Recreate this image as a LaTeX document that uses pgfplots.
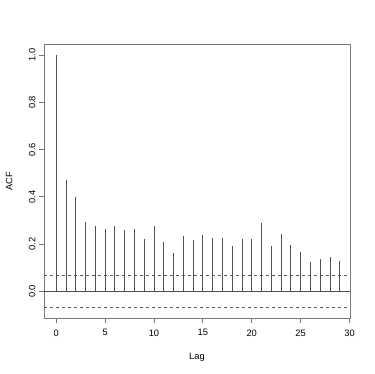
\documentclass[border=0pt]{standalone}
\usepackage{pgfplots}
\pgfplotsset{compat=1.18}
\usepackage{fontspec}
\setmainfont{Liberation Sans}
\definecolor{framegray}{RGB}{120,120,120}
\definecolor{spikegray}{RGB}{80,80,80}
\definecolor{ciblue}{RGB}{85,85,150}

\pgfplotstableread{
lag acf
0 1.000
1 0.471
2 0.398
3 0.295
4 0.276
5 0.265
6 0.278
7 0.261
8 0.265
9 0.221
10 0.275
11 0.210
12 0.163
13 0.235
14 0.217
15 0.238
16 0.226
17 0.227
18 0.193
19 0.223
20 0.221
21 0.288
22 0.191
23 0.241
24 0.197
25 0.166
26 0.124
27 0.138
28 0.145
29 0.127
}\acfdata

\begin{document}
\begin{tikzpicture}
\begin{axis}[
    scale only axis,
    width=306pt, height=274pt,
    xmin=-1.25, xmax=30.05,
    ymin=-0.113, ymax=1.047,
    font=\fontsize{9.3}{11}\selectfont,
    axis line style={framegray, line width=0.8pt},
    tick style={framegray, line width=0.8pt},
    tick align=outside,
    major tick length=5pt,
    xtick pos=bottom, ytick pos=left,
    xtick={0,5,10,15,20,25,30},
    ytick={0,0.2,0.4,0.6,0.8,1.0},
    /pgf/number format/assume math mode=true,
    yticklabel style={rotate=90, anchor=south,
        /pgf/number format/fixed,
        /pgf/number format/fixed zerofill,
        /pgf/number format/precision=1},
    xticklabel style={yshift=-3pt},
    xlabel={Lag}, ylabel={ACF},
    xlabel style={at={(axis description cs:0.5,-0.142)}, anchor=center},
    ylabel style={at={(axis description cs:-0.114,0.5)}, anchor=center},
]
% zero line
\addplot[spikegray, line width=0.8pt] coordinates {(-1.25,0) (30.05,0)};
% confidence bounds
\addplot[ciblue, line width=0.8pt, dash pattern=on 3pt off 3pt] coordinates {(-1.25,0.067) (30.05,0.067)};
\addplot[ciblue, line width=0.8pt, dash pattern=on 3pt off 3pt] coordinates {(-1.25,-0.067) (30.05,-0.067)};
% acf spikes
\addplot[ycomb, spikegray, line width=0.9pt, mark=none] table[x=lag, y=acf] {\acfdata};
\coordinate (ll) at (rel axis cs:0,0);
\end{axis}
\path (ll) ++(-44pt,-56pt) rectangle ++(374pt,374pt);
\end{tikzpicture}
\end{document}
